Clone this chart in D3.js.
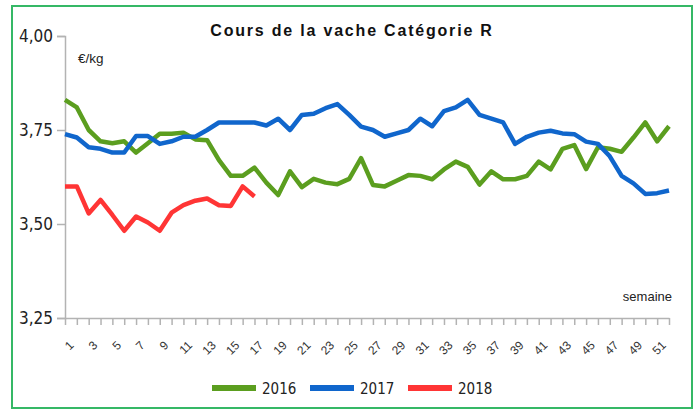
<!DOCTYPE html>
<html>
<head>
<meta charset="utf-8">
<script src="https://cdn.jsdelivr.net/npm/d3@7"></script>
<style>
  body { margin: 0; background: #fff; }
  svg { display: block; }
</style>
</head>
<body>
<div id="chart"></div>
<script>
// weeks 1..52
const weeks = d3.range(1, 53);

const v2016 = [3.83, 3.81, 3.75, 3.72, 3.715, 3.72, 3.69, 3.715, 3.74, 3.74,
  3.743, 3.725, 3.723, 3.67, 3.628, 3.628, 3.65, 3.61, 3.577, 3.64,
  3.598, 3.62, 3.61, 3.606, 3.62, 3.675, 3.604, 3.60, 3.615, 3.63,
  3.628, 3.619, 3.645, 3.666, 3.652, 3.605, 3.64, 3.619, 3.619, 3.628,
  3.666, 3.645, 3.70, 3.71, 3.646, 3.704, 3.70, 3.692, 3.73, 3.77,
  3.72, 3.76];

const v2017 = [3.739, 3.73, 3.704, 3.70, 3.69, 3.69, 3.734, 3.734, 3.713, 3.72,
  3.732, 3.732, 3.75, 3.77, 3.77, 3.77, 3.77, 3.762, 3.78, 3.75,
  3.79, 3.793, 3.808, 3.819, 3.79, 3.759, 3.75, 3.732, 3.741, 3.75,
  3.78, 3.76, 3.80, 3.81, 3.83, 3.79, 3.78, 3.77, 3.713, 3.732,
  3.743, 3.748, 3.741, 3.739, 3.719, 3.713, 3.68, 3.628, 3.608, 3.58,
  3.582, 3.589];

const v2018 = [3.60, 3.60, 3.528, 3.564, 3.524, 3.482, 3.52, 3.504, 3.482, 3.53,
  3.55, 3.562, 3.568, 3.55, 3.548, 3.60, 3.573];

const series = [
  { name: "2016", color: "#5b9e1f", values: v2016 },
  { name: "2017", color: "#1066cc", values: v2017 },
  { name: "2018", color: "#ff3535", values: v2018 }
];

const yTicks = [3.25, 3.5, 3.75, 4.0];

const width = 695, height = 411;
const narrow = "Liberation Sans Narrow, Arial Narrow, DejaVu Sans Condensed, sans-serif";
const sans = "Liberation Sans, Arial, sans-serif";

const svg = d3.select("#chart").append("svg")
  .attr("width", width)
  .attr("height", height);

// frame
svg.append("rect")
  .attr("x", 12).attr("y", 6)
  .attr("width", 680).attr("height", 402)
  .attr("fill", "#fff")
  .attr("stroke", "#35b866")
  .attr("stroke-width", 2);

const x = d3.scaleLinear().domain([1, 52]).range([65, 669]);
const y = d3.scaleLinear().domain([3.25, 4]).range([318, 36]);

// title
svg.append("text")
  .attr("x", 352).attr("y", 36)
  .attr("text-anchor", "middle")
  .style("font-family", sans)
  .style("font-weight", "bold")
  .style("font-size", "16px")
  .style("letter-spacing", "1.8px")
  .attr("fill", "#111")
  .text("Cours de la vache Catégorie R");

// y axis
const yAxis = svg.append("g")
  .attr("transform", "translate(65,0)")
  .call(d3.axisLeft(y).tickValues(yTicks).tickSize(8).tickPadding(4)
    .tickFormat(d => d3.format(".2f")(d).replace(".", ",")));
yAxis.select(".domain").attr("stroke", "#b3b3b3").attr("stroke-width", 1.5);
yAxis.selectAll(".tick line").attr("stroke", "#b3b3b3").attr("stroke-width", 1.5);
yAxis.selectAll(".tick text")
  .style("font-size", "17px")
  .style("font-family", narrow)
  .attr("fill", "#222");

// x axis
const xAxis = svg.append("g")
  .attr("transform", `translate(0,${y(3.25)})`)
  .call(d3.axisBottom(x).tickValues(weeks).tickSize(7).tickSizeOuter(0)
    .tickFormat(d => (d % 2 === 1 ? d : "")));
xAxis.select(".domain").attr("stroke", "#b3b3b3").attr("stroke-width", 1.5);
xAxis.selectAll(".tick line").attr("stroke", "#b3b3b3").attr("stroke-width", 1.5);
xAxis.selectAll(".tick text")
  .style("font-size", "12px")
  .style("font-family", sans)
  .attr("fill", "#333")
  .attr("text-anchor", "end")
  .attr("dy", "0.35em")
  .attr("transform", "translate(-1,18) rotate(-45)");

// unit labels
svg.append("text")
  .attr("x", 78).attr("y", 63)
  .style("font-family", sans)
  .style("font-size", "13.5px")
  .attr("fill", "#222")
  .text("€/kg");

svg.append("text")
  .attr("x", 672).attr("y", 301)
  .attr("text-anchor", "end")
  .style("font-family", sans)
  .style("font-size", "13px")
  .attr("fill", "#222")
  .text("semaine");

// lines
const line = d3.line()
  .x((d, i) => x(weeks[i]))
  .y(d => y(d));

svg.append("g").selectAll("path")
  .data(series)
  .join("path")
  .attr("d", d => line(d.values))
  .attr("fill", "none")
  .attr("stroke", d => d.color)
  .attr("stroke-width", 4.5)
  .attr("stroke-linejoin", "round");

// legend
const legend = svg.append("g").attr("transform", "translate(212,388)");
const item = legend.selectAll("g")
  .data(series)
  .join("g")
  .attr("transform", (d, i) => `translate(${i * 98},0)`);
item.append("rect")
  .attr("x", 0).attr("y", -3)
  .attr("width", 44).attr("height", 6)
  .attr("fill", d => d.color);
item.append("text")
  .attr("x", 50).attr("y", 6)
  .style("font-family", narrow)
  .style("font-size", "15px")
  .attr("fill", "#222")
  .text(d => d.name);
</script>
</body>
</html>
